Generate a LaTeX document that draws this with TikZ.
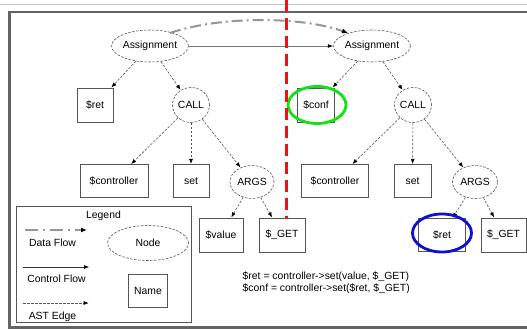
\documentclass[tikz,border=0pt]{standalone}
\usepackage{fontspec}
\setmainfont{Liberation Sans}
\usetikzlibrary{shapes.geometric,arrows.meta}
\definecolor{framegray}{RGB}{100,100,100}
\definecolor{edgegray}{RGB}{85,85,85}
\definecolor{flowgray}{RGB}{150,150,150}
\definecolor{hlgreen}{RGB}{20,225,20}
\definecolor{hlblue}{RGB}{15,15,210}
\definecolor{divred}{RGB}{235,20,20}
\tikzset{
  x=1pt, y=-1pt,
  every node/.style={font=\fontsize{10.4}{12}\selectfont, inner sep=0pt},
  namebox/.style={draw=edgegray, line width=0.7pt, fill=white, rectangle},
  astnode/.style={draw=edgegray, line width=0.6pt, ellipse, dash pattern=on 2.5pt off 1.5pt, fill=white},
  astedge/.style={draw=edgegray, line width=0.6pt, dash pattern=on 2.5pt off 1.5pt, -{Latex[length=5pt,width=4pt,black]}, shorten >=0.3pt},
  ctrlflow/.style={draw=flowgray!80!black, line width=0.9pt, -{Latex[length=5.5pt,width=4pt,black]}},
  dataflow/.style={draw=flowgray, line width=2pt, dash pattern=on 11pt off 4pt on 2pt off 4pt, -{Latex[length=6pt,width=5pt,black]}},
  hlmark/.style={ellipse, line width=2.8pt, fill=none}
}
\begin{document}
\begin{tikzpicture}
\useasboundingbox (0,0) rectangle (527,329);
% top rule and frame
\draw[gray!45, line width=1.5pt] (0,4.5) -- (527,4.5);
\draw[framegray, line width=2.5pt] (530,12) -- (9.5,12) -- (9.5,327.5) -- (530,327.5);

% left tree
\node[astnode, minimum width=71pt, minimum height=32pt] (LA) at (150,46) {Assignment};
\node[namebox, minimum width=36pt, minimum height=34pt] (Lret) at (95,105) {\$ret};
\node[astnode, minimum width=37pt, minimum height=35pt] (LC) at (191,105) {CALL};
\node[namebox, minimum width=68pt, minimum height=33pt] (Lctl) at (114,181) {\$controller};
\node[namebox, minimum width=36pt, minimum height=33pt] (Lset) at (191,181) {set};
\node[astnode, minimum width=44pt, minimum height=33pt] (LR) at (252,182) {ARGS};
\node[namebox, minimum width=44pt, minimum height=34pt] (Lval) at (221,235) {\$value};
\node[namebox, minimum width=46pt, minimum height=34pt] (LG) at (282,235) {\$\_GET};

% right tree
\node[astnode, minimum width=71pt, minimum height=32pt] (RA) at (372,46) {Assignment};
\node[namebox, minimum width=37pt, minimum height=34pt] (Rconf) at (316,105) {\$conf};
\node[astnode, minimum width=37pt, minimum height=35pt] (RC) at (413,105) {CALL};
\node[namebox, minimum width=67pt, minimum height=33pt] (Rctl) at (335,181) {\$controller};
\node[namebox, minimum width=37pt, minimum height=33pt] (Rset) at (412.5,181) {set};
\node[astnode, minimum width=45pt, minimum height=33pt] (RR) at (475,182) {ARGS};
\node[namebox, minimum width=47pt, minimum height=33pt] (Rret) at (442,235) {\$ret};
\node[namebox, minimum width=45pt, minimum height=34pt] (RG) at (503.5,235) {\$\_GET};

% AST edges
\foreach \a/\b in {LA/Lret, LA/LC, LC/Lctl, LC/Lset, LC/LR, LR/Lval, LR/LG,
                   RA/Rconf, RA/RC, RC/Rctl, RC/Rset, RC/RR, RR/Rret, RR/RG}
  \draw[astedge] (\a) -- (\b);

% control and data flow
\draw[ctrlflow] (LA.east) -- (RA.west);
\coordinate (dfs) at (170,33);
\coordinate (dfe) at (348,33);
\draw[dataflow] (dfs) .. controls (220,16) and (300,16) .. (dfe);

% highlights
\node[hlmark, draw=hlgreen, minimum width=58pt, minimum height=37pt] (hg) at (317,105) {};
\node[hlmark, draw=hlblue, minimum width=59pt, minimum height=38pt] (hb) at (442,233) {};

% divider
\coordinate (d1) at (286.5,0);
\coordinate (d2) at (286.5,219);
\draw[divred, line width=3pt, dash pattern=on 12pt off 6pt] (d1) -- (d2);

% code
\node[anchor=west] (c1) at (242.5,277) {\$ret = controller->set(value, \$\_GET)};
\node[anchor=west] (c2) at (242.5,289) {\$conf = controller->set(\$ret, \$\_GET)};

% legend
\node[namebox, minimum width=175pt, minimum height=116pt] (leg) at (103.5,264) {};
\node (legt) at (103.5,216) {Legend};
\coordinate (l1a) at (25,230);
\coordinate (l1b) at (87,230);
\draw[dataflow, dash pattern=on 13pt off 5pt on 2pt off 5pt] (l1a) -- (l1b);
\node (l1t) at (52.5,243) {Data Flow};
\node[astnode, minimum width=81pt, minimum height=35pt] (lnode) at (148,243) {Node};
\coordinate (l2a) at (23,267);
\coordinate (l2b) at (89,267);
\draw[draw=black!80, line width=0.6pt, -{Latex[length=5pt,width=4pt,black]}] (l2a) -- (l2b);
\node (l2t) at (56.5,279) {Control Flow};
\node[namebox, minimum width=39pt, minimum height=33pt] (lname) at (148,290.5) {Name};
\coordinate (l3a) at (23,303);
\coordinate (l3b) at (89,303);
\draw[astedge] (l3a) -- (l3b);
\node (l3t) at (52.5,317) {AST Edge};
\end{tikzpicture}
\end{document}
